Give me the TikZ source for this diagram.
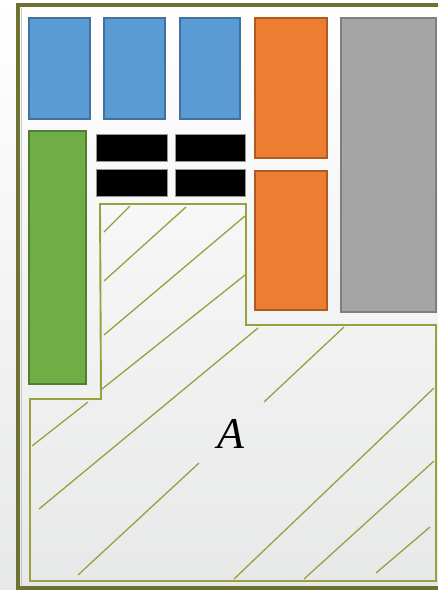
\documentclass[tikz,border=0pt]{standalone}
\usepackage{fontspec}
\setmainfont{Liberation Serif}
\begin{document}
\begin{tikzpicture}[x=1pt,y=-1pt,
  bluebox/.style={fill={rgb,255:red,91;green,155;blue,213},draw={rgb,255:red,65;green,113;blue,156},line width=1.6pt},
  orangebox/.style={fill={rgb,255:red,237;green,125;blue,49},draw={rgb,255:red,174;green,90;blue,33},line width=1.6pt},
  graybox/.style={fill={rgb,255:red,165;green,165;blue,165},draw={rgb,255:red,127;green,127;blue,127},line width=1.6pt},
  greenbox/.style={fill={rgb,255:red,112;green,173;blue,71},draw={rgb,255:red,80;green,126;blue,50},line width=1.6pt},
  blackbox/.style={fill=black,draw={rgb,255:red,150;green,150;blue,150},line width=0.8pt},
  outline/.style={draw={rgb,255:red,154;green,160;blue,63},line width=1.9pt},
  hatch/.style={draw={rgb,255:red,154;green,160;blue,63},line width=1.3pt},
  framel/.style={draw={rgb,255:red,110;green,114;blue,48},line width=4pt}]
\useasboundingbox (0,0) rectangle (438,590);
\clip (0,0) rectangle (438,590);
\shade[top color=white, bottom color={rgb,255:red,231;green,232;blue,232}] (0,0) rectangle (438,590);
% frame
\draw[framel] (18,5) rectangle (445,588);
\draw[draw={rgb,255:red,200;green,200;blue,200},line width=0.6pt] (21,8) -- (21,585);
% top row
\draw[bluebox] (29,18) rectangle (90,119);
\draw[bluebox] (104,18) rectangle (165,119);
\draw[bluebox] (180,18) rectangle (240,119);
\draw[orangebox] (255,18) rectangle (327,158);
\draw[orangebox] (255,171) rectangle (327,310);
\draw[graybox] (341,18) rectangle (436,312);
\draw[greenbox] (29,131) rectangle (86,384);
% black bars
\draw[blackbox] (96,134) rectangle (167,161);
\draw[blackbox] (175,134) rectangle (245,161);
\draw[blackbox] (96,169) rectangle (167,196);
\draw[blackbox] (175,169) rectangle (245,196);
% region A
\draw[outline] (100,204) -- (246,204) -- (246,325) -- (436,325) -- (436,581) -- (30,581) -- (30,399) -- (101,399) -- cycle;
\draw[hatch] (104,232) -- (130,206);
\draw[hatch] (104,281) -- (186,207);
\draw[hatch] (104,335) -- (245,216);
\draw[hatch] (102,389) -- (245,275);
\draw[hatch] (39,509) -- (258,328);
\draw[hatch] (32,446) -- (88,402);
\draw[hatch] (264,402) -- (344,327);
\draw[hatch] (78,575) -- (199,463);
\draw[hatch] (234,579) -- (434,388);
\draw[hatch] (304,579) -- (434,461);
\draw[hatch] (376,573) -- (430,527);
\node[font=\fontsize{44}{44}\selectfont\itshape, inner sep=0pt] (labelA) at (231,434) {A};
\end{tikzpicture}
\end{document}
